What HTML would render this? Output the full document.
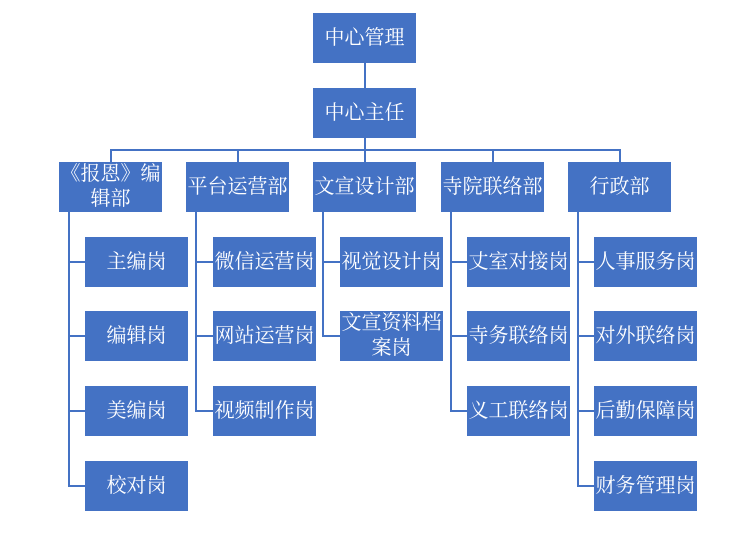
<!DOCTYPE html>
<html><head><meta charset="utf-8"><style>
body{margin:0;width:749px;height:545px;background:#fff;position:relative;overflow:hidden}
.b{position:absolute;width:103px;height:50px;background:#4472C4;color:#fff;display:flex;align-items:center;justify-content:center;text-align:center;font-family:"Liberation Serif","Noto Serif CJK SC",serif;font-size:20px;line-height:25px}
.l{position:absolute;background:#4472C4}
</style></head><body>
<div class="b" style="left:313px;top:13px">中心管理</div>
<div class="l" style="left:364px;top:62px;width:2px;height:26px"></div>
<div class="b" style="left:313px;top:88px">中心主任</div>
<div class="l" style="left:364px;top:137px;width:2px;height:13px"></div>
<div class="l" style="left:110px;top:149px;width:511px;height:2px"></div>
<div class="l" style="left:110px;top:149px;width:2px;height:13px"></div>
<div class="l" style="left:237px;top:149px;width:2px;height:13px"></div>
<div class="l" style="left:364px;top:149px;width:2px;height:13px"></div>
<div class="l" style="left:492px;top:149px;width:2px;height:13px"></div>
<div class="l" style="left:619px;top:149px;width:2px;height:13px"></div>

<div class="b" style="left:59px;top:162px;white-space:nowrap"><span>《报恩》编<br>辑部</span></div>
<div class="b" style="left:186px;top:162px">平台运营部</div>
<div class="b" style="left:313px;top:162px">文宣设计部</div>
<div class="b" style="left:441px;top:162px">寺院联络部</div>
<div class="b" style="left:568px;top:162px">行政部</div>

<div class="l" style="left:68px;top:212px;width:2px;height:275px"></div>
<div class="l" style="left:68px;top:261px;width:17px;height:2px"></div>
<div class="l" style="left:68px;top:335px;width:17px;height:2px"></div>
<div class="l" style="left:68px;top:410px;width:17px;height:2px"></div>
<div class="l" style="left:68px;top:485px;width:17px;height:2px"></div>
<div class="b" style="left:85px;top:237px">主编岗</div>
<div class="b" style="left:85px;top:311px">编辑岗</div>
<div class="b" style="left:85px;top:386px">美编岗</div>
<div class="b" style="left:85px;top:461px">校对岗</div>

<div class="l" style="left:195px;top:212px;width:2px;height:200px"></div>
<div class="l" style="left:195px;top:261px;width:18px;height:2px"></div>
<div class="l" style="left:195px;top:335px;width:18px;height:2px"></div>
<div class="l" style="left:195px;top:410px;width:18px;height:2px"></div>
<div class="b" style="left:213px;top:237px">微信运营岗</div>
<div class="b" style="left:213px;top:311px">网站运营岗</div>
<div class="b" style="left:213px;top:386px">视频制作岗</div>

<div class="l" style="left:322px;top:212px;width:2px;height:125px"></div>
<div class="l" style="left:322px;top:261px;width:18px;height:2px"></div>
<div class="l" style="left:322px;top:335px;width:18px;height:2px"></div>
<div class="b" style="left:340px;top:237px">视觉设计岗</div>
<div class="b" style="left:340px;top:311px">文宣资料档案岗</div>

<div class="l" style="left:450px;top:212px;width:2px;height:200px"></div>
<div class="l" style="left:450px;top:261px;width:17px;height:2px"></div>
<div class="l" style="left:450px;top:335px;width:17px;height:2px"></div>
<div class="l" style="left:450px;top:410px;width:17px;height:2px"></div>
<div class="b" style="left:467px;top:237px">丈室对接岗</div>
<div class="b" style="left:467px;top:311px">寺务联络岗</div>
<div class="b" style="left:467px;top:386px">义工联络岗</div>

<div class="l" style="left:577px;top:212px;width:2px;height:275px"></div>
<div class="l" style="left:577px;top:261px;width:17px;height:2px"></div>
<div class="l" style="left:577px;top:335px;width:17px;height:2px"></div>
<div class="l" style="left:577px;top:410px;width:17px;height:2px"></div>
<div class="l" style="left:577px;top:485px;width:17px;height:2px"></div>
<div class="b" style="left:594px;top:237px">人事服务岗</div>
<div class="b" style="left:594px;top:311px">对外联络岗</div>
<div class="b" style="left:594px;top:386px">后勤保障岗</div>
<div class="b" style="left:594px;top:461px">财务管理岗</div>
</body></html>
